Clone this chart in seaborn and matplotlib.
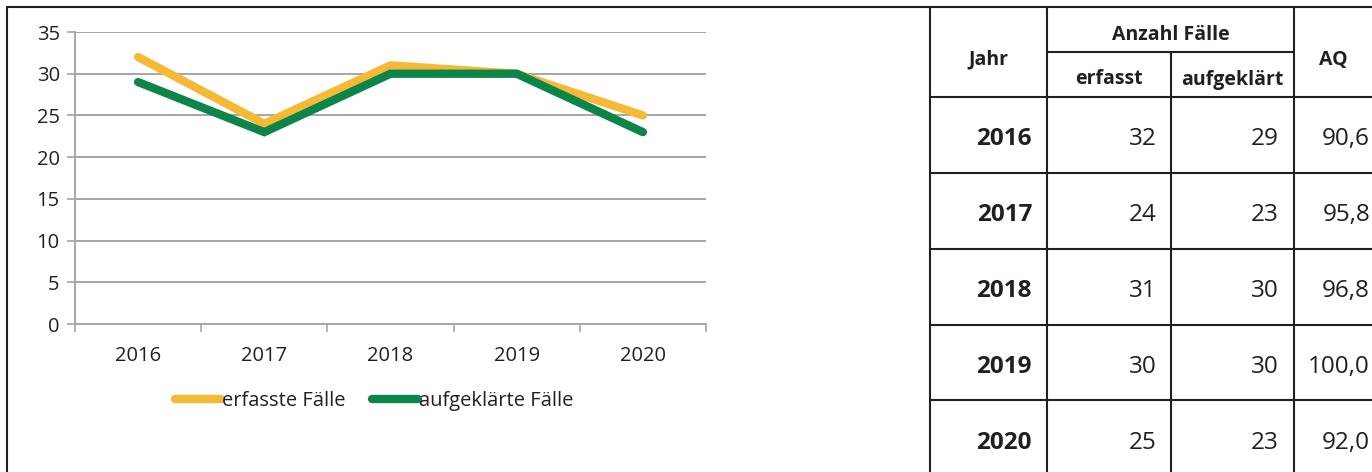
import matplotlib
matplotlib.use("Agg")
import matplotlib.pyplot as plt
import seaborn as sns
import pandas as pd
from matplotlib.lines import Line2D

# ---- data ----
years = ["2016", "2017", "2018", "2019", "2020"]
erfasst = [32, 24, 31, 30, 25]
aufgeklaert = [29, 23, 30, 30, 23]
aq = ["90,6", "95,8", "96,8", "100,0", "92,0"]
series_names = ["erfasste Fälle", "aufgeklärte Fälle"]
y_ticks = [0, 5, 10, 15, 20, 25, 30, 35]

YELLOW = "#F6B935"
GREEN = "#0B8549"
GRID = "#A6A6A6"
INK = "#231F20"

sns.set_theme(style="white")
plt.rcParams["font.family"] = ["Open Sans", "DejaVu Sans"]

W, H = 1372, 472
fig = plt.figure(figsize=(W / 100, H / 100), dpi=100)

df = pd.DataFrame({
    "Jahr": years * 2,
    "Wert": erfasst + aufgeklaert,
    "Serie": [series_names[0]] * len(years) + [series_names[1]] * len(years),
})

# ---- line chart ----
x0, x1, ytop, ybot = 75, 706, 32, 324
ax = fig.add_axes([x0 / W, 1 - ybot / H, (x1 - x0) / W, (ybot - ytop) / H])
sns.lineplot(data=df, x="Jahr", y="Wert", hue="Serie", palette=[YELLOW, GREEN],
             linewidth=6, ax=ax, legend=False, sort=False)
for ln in ax.lines:
    ln.set_solid_capstyle("round")
    ln.set_solid_joinstyle("miter")
ax.set_xlim(-0.5, len(years) - 0.5)
ax.set_ylim(0, 35)
ax.set_yticks(y_ticks)
ax.set_xticks([i - 0.5 for i in range(len(years) + 1)], minor=False)
ax.set_xticklabels([])
ax.set_xticks(range(len(years)), minor=True)
ax.set_xticklabels(years, minor=True)
ax.tick_params(axis="x", which="major", length=6, width=1.2, color=GRID, direction="out", bottom=True)
ax.tick_params(axis="x", which="minor", length=0, pad=16, labelsize=14.5, labelcolor=INK)
ax.tick_params(axis="y", length=6, width=1.2, color=GRID, direction="out", left=True,
               labelsize=14.5, labelcolor=INK, pad=5)
ax.set_xlabel("")
ax.set_ylabel("")
ax.grid(axis="y", color=GRID, linewidth=1.4)
ax.set_axisbelow(True)
for s in ["top", "right"]:
    ax.spines[s].set_visible(False)
for s in ["left", "bottom"]:
    ax.spines[s].set_color(GRID)
    ax.spines[s].set_linewidth(1.4)

handles = [Line2D([], [], color=YELLOW, linewidth=6, solid_capstyle="round"),
           Line2D([], [], color=GREEN, linewidth=6, solid_capstyle="round")]
fig.legend(handles, series_names, loc="center", bbox_to_anchor=(374 / W, 1 - 401 / H),
           ncol=2, frameon=False, fontsize=14.5, handlelength=2.3, handletextpad=0.05,
           columnspacing=1.3, labelcolor=INK, borderpad=0)

# ---- frame lines ----
fig.add_artist(Line2D([7 / W, 1], [1 - 7 / H, 1 - 7 / H], color=INK, linewidth=1.5))
fig.add_artist(Line2D([7 / W, 7 / W], [0, 1 - 7 / H], color=INK, linewidth=1.5))

# ---- table ----
tx = fig.add_axes([0, 0, 1, 1])
tx.set_xlim(0, W)
tx.set_ylim(H, 0)
tx.axis("off")
cols = [930, 1047, 1171, 1294]
row_lines = [97, 173, 249, 325, 400]
lw = 1.5
for c in [cols[0], cols[1], cols[3]]:
    tx.plot([c, c], [7, H], color=INK, linewidth=lw)
tx.plot([cols[2], cols[2]], [52, H], color=INK, linewidth=lw)
tx.plot([cols[1], cols[3]], [52, 52], color=INK, linewidth=lw)
for r in row_lines:
    tx.plot([cols[0], W], [r, r], color=INK, linewidth=lw)

hdr = dict(fontsize=14, fontweight="bold", color=INK, ha="center", va="center_baseline")
tx.text((cols[0] + cols[1]) / 2, 57, "Jahr", **hdr)
tx.text((cols[1] + cols[3]) / 2, 32, "Anzahl Fälle", **hdr)
tx.text((cols[1] + cols[2]) / 2, 77, "erfasst", **hdr)
tx.text((cols[2] + cols[3]) / 2, 77, "aufgeklärt", **hdr)
tx.text(1333, 57, "AQ", **hdr)

row_h = 76
for i, yr in enumerate(years):
    yc = 97 + row_h * i + row_h / 2 + 1
    tx.text(1032, yc, yr, fontsize=17.5, fontweight="bold", color=INK, ha="right", va="center_baseline")
    tx.text(1157, yc, str(erfasst[i]), fontsize=17.5, color=INK, ha="right", va="center_baseline")
    tx.text(1279, yc, str(aufgeklaert[i]), fontsize=17.5, color=INK, ha="right", va="center_baseline")
    tx.text(1370, yc, aq[i], fontsize=17.5, color=INK, ha="right", va="center_baseline")

fig.savefig("out.png", dpi=100, facecolor="white")
